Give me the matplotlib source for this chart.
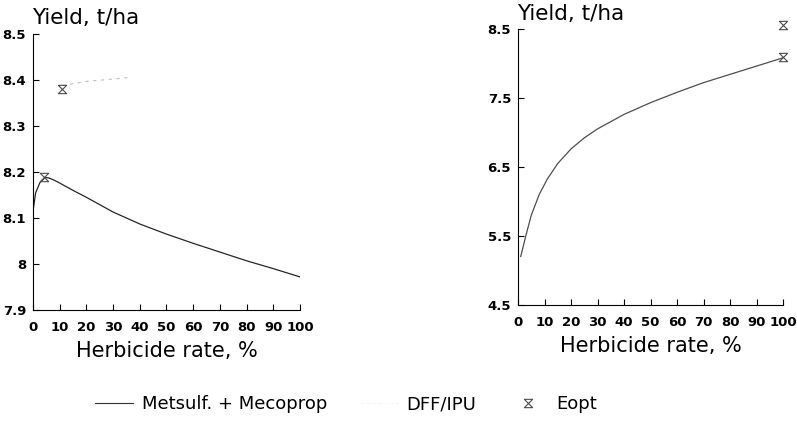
import numpy as np
import matplotlib
import matplotlib.pyplot as plt
from matplotlib.path import Path
from matplotlib.lines import Line2D

matplotlib.use('Agg')

# Metsulf. + Mecoprop response (left panel)
met_rate = [0, 1, 2.6, 4.5, 6, 8, 10, 15, 20, 30, 40, 50, 60, 70, 80, 90, 100]
met_yield = [8.115, 8.155, 8.177, 8.188, 8.187, 8.182, 8.176, 8.160, 8.145, 8.113,
             8.087, 8.065, 8.045, 8.026, 8.007, 7.99, 7.972]
met_eopt_rate = [4.1]
met_eopt_yield = [8.19]

# DFF/IPU dashed fragment and its optimum (left panel)
dff_rate = [11, 20, 30, 37]
dff_yield = [8.388, 8.397, 8.402, 8.406]
dff_eopt_rate = [11]
dff_eopt_yield = [8.38]

# right panel curve and optima
right_rate = [1, 3, 5, 8, 11, 15, 20, 25, 30, 40, 50, 60, 70, 80, 90, 100]
right_yield = [5.2, 5.51, 5.8, 6.1, 6.32, 6.55, 6.76, 6.92, 7.05, 7.26, 7.43, 7.58,
               7.72, 7.84, 7.96, 8.08]
right_eopt_rate = [100, 100]
right_eopt_yield = [8.56, 8.09]

x_ticks = list(range(0, 101, 10))
left_yticks = [7.9, 8.0, 8.1, 8.2, 8.3, 8.4, 8.5]
left_ylabels = ['7.9', '8', '8.1', '8.2', '8.3', '8.4', '8.5']
right_yticks = [4.5, 5.5, 6.5, 7.5, 8.5]
right_ylabels = ['4.5', '5.5', '6.5', '7.5', '8.5']

# hourglass marker for Eopt
hourglass = Path([(-1, 1), (1, 1), (-1, -1), (1, -1), (-1, 1)],
                 [Path.MOVETO, Path.LINETO, Path.LINETO, Path.LINETO, Path.LINETO])

fig = plt.figure(figsize=(7.97, 4.30), dpi=100)
ax1 = fig.add_axes([0.0414, 0.279, 0.335, 0.642])
ax2 = fig.add_axes([0.650, 0.291, 0.3325, 0.642])

mk = dict(marker=hourglass, ls='none', ms=6, mfc='none', mec='0.3', mew=0.8)


def style_axes(ax, yticks, ylabels, ylim, title_dy):
    ax.set_xlim(0, 100)
    ax.set_ylim(*ylim)
    ax.set_xticks(x_ticks)
    ax.set_yticks(yticks)
    ax.set_yticklabels(ylabels)
    for s in ['top', 'right']:
        ax.spines[s].set_visible(False)
    for s in ['left', 'bottom']:
        ax.spines[s].set_linewidth(0.8)
    ax.tick_params(direction='in', length=4, width=0.8, labelsize=9.5)
    ax.tick_params(axis='x', pad=8)
    ax.tick_params(axis='y', pad=5)
    for lab in ax.get_xticklabels() + ax.get_yticklabels():
        lab.set_fontweight('bold')
    ax.set_xlabel('Herbicide rate, %', fontsize=15, labelpad=5)
    ax.text(-0.005, 1.0 + title_dy, 'Yield, t/ha', transform=ax.transAxes,
            fontsize=15.5, ha='left', va='bottom')


ax1.plot(met_rate, met_yield, color='0.15', lw=0.9)
ax1.plot(dff_rate, dff_yield, color='0.75', lw=0.8, ls=(0, (3, 4)))
ax1.plot(met_eopt_rate, met_eopt_yield, **mk)
ax1.plot(dff_eopt_rate, dff_eopt_yield, **mk)
style_axes(ax1, left_yticks, left_ylabels, (7.9, 8.5), 0.021)

ax2.plot(right_rate, right_yield, color='0.3', lw=0.9)
ax2.plot(right_eopt_rate, right_eopt_yield, clip_on=False, **mk)
style_axes(ax2, right_yticks, right_ylabels, (4.5, 8.5), 0.018)

handles = [Line2D([], [], color='0.2', lw=0.8),
           Line2D([], [], color='0.96', lw=0.8, ls='--'),
           Line2D([], [], **mk)]
labels = ['Metsulf. + Mecoprop', 'DFF/IPU', 'Eopt']
fig.legend(handles, labels, loc='center', bbox_to_anchor=(0.434, 0.06), ncol=3,
           frameon=False, fontsize=13, handlelength=2.1, handletextpad=0.5,
           columnspacing=1.8)

fig.savefig('out.png', dpi=100)
